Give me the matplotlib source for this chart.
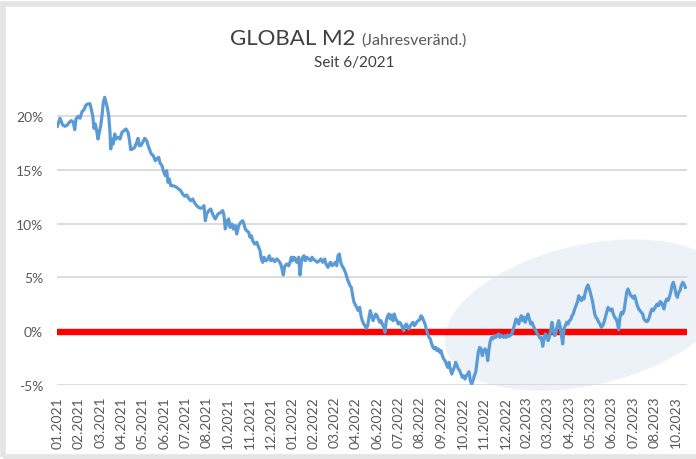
import matplotlib
matplotlib.use("Agg")
import matplotlib.pyplot as plt
from matplotlib.patches import Ellipse, Rectangle
import numpy as np

plt.rcParams['font.family'] = ['Lato', 'DejaVu Sans']

# Global M2, year-on-year change in %; t = position along the time axis
t = [0.3, 3.0, 5.7, 8, 10.3, 12.3, 14.3, 16.3, 17.7, 19, 21, 23, 25, 27, 29, 31, 33,
     34.3, 35.7, 37, 38.3, 39.7, 41, 42.3, 43.7, 45, 46.3, 47.7, 49, 50.3, 51.7, 53,
     53.7, 55, 56.3, 57.7, 59, 61, 63, 65, 67, 69, 71, 72.3, 73.7, 75.7, 77.7, 79.7,
     81, 82.3, 83.7, 85.7, 87.7, 89.7, 91.7, 93, 94.3, 96.3, 98.3, 99.7, 101.7, 103,
     105, 106.3, 108.3, 109.7, 111, 112.3, 113.7, 115.7, 117.7, 119.7, 121.7, 123.7,
     125.7, 127.7, 129.7, 131.7, 133.7, 135.7, 137.7, 139.7, 141.7, 143.7, 145.7, 147,
     148.3, 149.7, 151.7, 153.7, 156.3, 158.3, 161, 163.7, 165.7, 167, 168.3, 170.3,
     171.7, 173, 175, 176.3, 178.3, 179.7, 181.7, 183.7, 185.7, 187, 188.3, 189.7,
     191.7, 193, 194.3, 195.7, 197.7, 199.7, 201.7, 203, 204.3, 205.7, 207, 209, 211,
     212.3, 213.7, 215.7, 217.7, 219.7, 221.7, 223.7, 225, 226.3, 227.7, 229.7, 231.7,
     233, 234.3, 235.7, 237, 238.3, 239.7, 241.7, 243, 244.3, 245.7, 247, 248.3, 249.7,
     251.7, 253.7, 255, 256.3, 258.3, 260.3, 262.3, 263.7, 265.7, 267.7, 269, 271,
     272.3, 273.7, 275, 277, 278.3, 279.7, 281, 282.3, 283.7, 285, 287, 289, 290.3,
     291.7, 293, 294.3, 295.7, 297, 299.7, 301.3, 302.7, 304, 305.3, 306.7, 308, 309.3,
     310.7, 312, 313.3, 314.7, 316, 317.3, 318.7, 320, 321.3, 322.7, 324, 325.3, 326.7,
     328, 329.3, 330.7, 332, 333.3, 334.7, 336, 337.3, 338.7, 340, 341.3, 342.7, 344,
     345.3, 346.7, 348, 349.3, 350.7, 352, 353.3, 354.7, 356, 357.3, 358.7, 360, 361.3,
     362.7, 364, 365.3, 366.7, 368, 369.3, 370.7, 372, 373.3, 374.7, 376, 377.3, 378.7,
     380, 381.3, 382.7, 384, 385.3, 386.7, 388, 389.3, 390.7, 392, 393.3, 394.7, 396,
     397.3, 398.7, 400, 401.3, 402.7, 404, 405.3, 406.7, 408, 409.3, 410.7, 412, 413.3,
     414.7, 416, 417.3, 418.7, 420, 421.3, 422.7, 424, 425.3, 426.7, 428, 429.3, 430.7,
     432, 433.3, 434.7, 436, 437.3, 438.7, 440, 441.3, 442.7, 444, 445.3, 446.7, 448,
     449.3, 450.7, 452, 453, 454.7, 456.3, 457.7, 459, 460.3, 461.7, 463, 464.3, 465.7,
     467, 468.3, 469.7, 471, 472.3, 473.7, 475, 476.3, 477.7, 479, 480.3, 481.7, 483,
     484.3, 485.7, 487, 488.3, 489.7, 491, 492.3, 493.7, 495, 496.3, 497.7, 499, 500.3,
     501.7, 503, 504.3, 505.7, 507, 508.3, 509.7, 511, 512.3, 513.7, 515, 516.3, 517.7,
     519, 520.3, 521.7, 523, 524.3, 525.7, 527, 528.3, 529.7, 531, 532.3, 533.7, 535,
     536.3, 537.7, 539, 540.3, 541.7, 543, 544.3, 545.7, 547, 548.3, 549.7, 551, 552.3,
     553.7, 555, 556.3, 557.7, 559, 560.3, 561.7, 563, 564.3, 565.7, 567, 568.3, 569.7,
     571, 572.3, 573.7, 575, 576.3, 577.7, 579, 580.3, 581.7, 583, 584.3, 585.7, 587,
     588.3, 589.7, 591, 592.3, 593.7, 595, 596.3, 597.7, 599, 600.3, 601.7, 603, 604.3,
     605.7, 607, 608.3, 609.7, 611, 612.3, 613.7, 615, 616.3, 617.7, 619, 620.3, 621.7,
     623, 624.3, 625.7, 627, 628.3]

m2_yoy = [19.04, 19.79, 19.16, 19.04, 19.16, 19.41, 19.57, 19.41, 18.73, 19.72, 19.97,
          19.79, 20.40, 20.59, 21.02, 21.12, 21.15, 20.59, 20.03, 18.85, 19.26, 18.63,
          17.86, 18.48, 19.10, 20.03, 21.27, 21.74, 21.27, 20.81, 20.03, 18.48, 16.93,
          17.86, 17.40, 18.33, 17.86, 18.02, 17.86, 18.48, 18.63, 18.79, 18.48, 17.86,
          16.87, 16.93, 17.09, 17.55, 17.92, 17.24, 17.24, 17.55, 17.92, 17.70, 17.09,
          16.77, 16.47, 16.31, 15.84, 16.00, 16.16, 15.63, 15.38, 14.91, 14.45, 14.91,
          13.83, 14.14, 13.52, 13.52, 13.46, 13.36, 13.21, 13.05, 12.74, 12.53, 12.65,
          12.34, 12.12, 12.28, 11.91, 11.66, 11.50, 11.41, 11.50, 11.66, 10.26, 10.88,
          11.19, 11.35, 10.73, 10.42, 10.88, 11.04, 11.19, 10.73, 9.49, 10.26, 10.42,
          9.64, 9.95, 9.49, 9.80, 9.02, 9.80, 10.11, 10.26, 9.95, 9.49, 9.33, 9.18, 8.72,
          8.87, 8.40, 8.09, 8.25, 7.78, 7.47, 6.70, 6.39, 6.86, 6.54, 6.70, 7.00, 6.54,
          6.70, 6.45, 6.70, 6.54, 6.23, 5.77, 5.21, 6.02, 6.23, 6.07, 6.39, 6.86, 6.54,
          6.86, 6.70, 6.39, 6.86, 5.21, 6.39, 6.86, 7.00, 6.54, 6.86, 6.70, 6.54, 6.86,
          6.70, 6.54, 6.39, 6.54, 6.70, 6.39, 6.70, 6.23, 5.92, 6.23, 6.39, 6.07, 6.23,
          6.39, 6.07, 7.00, 7.16, 6.39, 6.07, 5.77, 5.30, 4.84, 4.53, 4.22, 4.06, 3.28,
          2.67, 2.20, 1.89, 2.20, 1.42, 0.96, 0.65, 0.49, 0.25, 0.49, 1.27, 1.89, 1.42,
          0.96, 1.27, 1.58, 1.42, 1.12, 0.81, 0.96, 0.65, 0.34, -0.12, 0.96, 1.42, 1.58,
          1.12, 1.49, 0.96, 1.58, 1.12, 0.96, 0.65, 0.81, 0.65, 0.34, 0.03, 0.49, 0.65,
          0.34, 0.19, 0.49, 0.65, 0.81, 0.49, 0.65, 0.87, 0.96, 1.05, 1.42, 1.27, 0.96,
          0.65, 0.19, -0.28, -0.59, -0.74, -1.21, -1.52, -1.67, -1.52, -1.83, -1.67,
          -1.98, -1.83, -2.30, -2.60, -2.76, -3.07, -3.38, -2.91, -3.53, -4.00, -3.69,
          -3.38, -2.91, -3.23, -3.53, -3.69, -4.00, -4.31, -4.16, -4.47, -4.16, -4.00,
          -3.79, -4.62, -4.93, -4.62, -4.16, -3.84, -2.91, -1.98, -1.52, -1.67, -2.30,
          -1.83, -1.67, -1.83, -2.76, -1.67, -0.90, -0.59, -0.74, -0.43, -0.59, -0.43,
          -0.28, -0.59, -0.37, -0.50, -0.59, -0.43, -0.59, -0.37, -0.50, -0.43, -0.28,
          0.19, 0.65, 1.12, 0.96, 0.65, 1.12, 1.42, 0.96, 1.27, 0.81, 1.27, 1.58, 1.12,
          0.65, 0.81, 0.49, 0.19, 0.03, -0.28, -0.43, -0.68, -0.59, -1.42, -0.74, -0.28,
          -0.43, -0.90, -0.59, 0.03, 0.81, 0.03, -0.43, -0.12, 0.49, 0.96, 0.49, -0.28,
          -1.21, 0.19, 0.49, 0.81, 0.65, 0.96, 1.05, 1.42, 1.58, 2.05, 2.36, 2.67, 3.28,
          2.98, 2.82, 3.13, 2.98, 3.60, 4.06, 4.28, 3.91, 3.44, 2.98, 2.36, 1.58, 1.27,
          1.12, 0.81, 0.65, 0.34, 0.49, 0.81, 1.27, 1.74, 2.20, 2.05, 1.89, 2.05, 1.58,
          1.27, 1.12, 0.81, 0.12, 1.27, 1.74, 1.58, 1.89, 2.67, 3.60, 3.91, 3.60, 3.28,
          3.22, 3.04, 3.28, 2.82, 2.36, 2.05, 1.89, 1.74, 1.58, 1.12, 0.96, 0.87, 0.96,
          1.27, 1.74, 2.05, 1.89, 2.11, 2.36, 2.51, 2.36, 2.73, 2.67, 2.36, 2.05, 2.67,
          2.98, 2.82, 3.13, 3.60, 4.22, 4.53, 4.06, 3.44, 3.13, 3.60, 3.75, 4.22, 4.53,
          4.37, 4.06]

month_labels = ["01.2021", "02.2021", "03.2021", "04.2021", "05.2021", "06.2021",
                "07.2021", "08.2021", "10.2021", "11.2021", "12.2021", "01.2022",
                "02.2022", "03.2022", "04.2022", "06.2022", "07.2022", "08.2022",
                "09.2022", "10.2022", "11.2022", "12.2022", "02.2023", "03.2023",
                "04.2023", "05.2023", "06.2023", "07.2023", "08.2023", "10.2023"]
label_step = 21.33

y_ticks = [-5, 0, 5, 10, 15, 20]
y_labels = ["-5%", "0%", "5%", "10%", "15%", "20%"]

grey_text = "#595959"

fig = plt.figure(figsize=(6.96, 4.6), dpi=100)
fig.patch.set_facecolor("white")

# highlight ellipse (drawn in pixel space behind the axes)
ell = Ellipse((5.87, 1.44), 2.9, 1.4, angle=13, transform=fig.dpi_scale_trans,
              facecolor="#edf2f9", edgecolor="none", zorder=0)
fig.patches.append(ell)

# screenshot frame shading
fig.patches.append(Rectangle((0.004, 0.005), 1.2, 0.985, transform=fig.transFigure,
                             facecolor="none", edgecolor="#e4e4e4", linewidth=4, zorder=0))

ax = fig.add_axes([57 / 696, 74.25 / 460, 630 / 696, 290.25 / 460])
ax.set_facecolor("none")
ax.set_zorder(1)

ax.set_xlim(0, 630)
ax.set_ylim(-5, 22)

ax.set_yticks(y_ticks)
ax.set_yticklabels(y_labels)
ax.set_xticks(0.5 + label_step * np.arange(len(month_labels)))
ax.set_xticklabels(month_labels, rotation=90)
ax.tick_params(axis="y", length=0, pad=10, labelsize=10, labelcolor=grey_text)
ax.tick_params(axis="x", length=0, pad=8, labelsize=10, labelcolor=grey_text)

ax.grid(axis="y", color="#d9d9d9", linewidth=1.3)
ax.set_axisbelow(True)
for s in ax.spines.values():
    s.set_visible(False)

ax.axhline(-0.1, color="#ff0000", linewidth=4.6, zorder=2)
ax.plot(t, m2_yoy, color="#5b9bd5", linewidth=2.3, zorder=3)

fig.text(355 / 696, 1 - 45 / 460, "GLOBAL M2", ha="right", va="baseline",
         fontsize=16, color="#404040")
fig.text(361 / 696, 1 - 45 / 460, "(Jahresveränd.)", ha="left", va="baseline",
         fontsize=11.5, color=grey_text)
fig.text(354 / 696, 1 - 67 / 460, "Seit 6/2021", ha="center", va="baseline",
         fontsize=11, color="#404040")

fig.savefig("out.png", dpi=100)
